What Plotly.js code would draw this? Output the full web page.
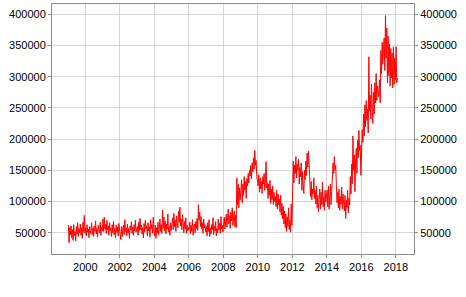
<!DOCTYPE html>
<html>
<head>
<meta charset="utf-8">
<script src="https://cdn.plot.ly/plotly-3.0.1.min.js"></script>
<style>html,body{margin:0;padding:0;background:#fff;}#chart{width:466px;height:297px;}</style>
</head>
<body>
<div id="chart"></div>
<script>
// Bi-weekly values, one array per year (first point near Jan 8, step 14 days)
const v1999 = [62000, 34000, 58000, 47000, 61000, 42000, 55000, 38000, 63000, 45000, 52000, 37000, 60000, 48000, 66000, 44000, 57000, 50000, 64000, 46000, 58000, 41000, 67000, 52000, 78000, 49000];
const v2000 = [58000, 45000, 63000, 51000, 56000, 42000, 60000, 49000, 54000, 66000, 47000, 58000, 44000, 61000, 52000, 69000, 48000, 57000, 43000, 62000, 55000, 50000, 67000, 46000, 59000, 53000];
const v2001 = [72000, 52000, 75000, 56000, 64000, 49000, 70000, 55000, 61000, 46000, 66000, 53000, 58000, 44000, 63000, 50000, 68000, 47000, 57000, 42000, 62000, 51000, 59000, 45000, 65000, 54000];
const v2002 = [48000, 39000, 60000, 44000, 56000, 62000, 47000, 71000, 52000, 58000, 45000, 64000, 50000, 57000, 41000, 61000, 55000, 68000, 49000, 59000, 46000, 63000, 53000, 70000, 51000, 57000];
const v2003 = [60000, 46000, 67000, 52000, 73000, 55000, 62000, 48000, 58000, 42000, 65000, 51000, 70000, 56000, 61000, 45000, 66000, 53000, 59000, 43000, 71000, 57000, 63000, 49000, 75000, 54000];
const v2004 = [45000, 62000, 41000, 58000, 50000, 67000, 47000, 55000, 72000, 52000, 63000, 49000, 86000, 58000, 75000, 53000, 69000, 48000, 64000, 56000, 80000, 51000, 60000, 46000, 66000, 54000];
const v2005 = [62000, 74000, 55000, 81000, 60000, 70000, 52000, 77000, 64000, 58000, 85000, 67000, 91000, 61000, 72000, 55000, 79000, 63000, 50000, 68000, 56000, 74000, 49000, 62000, 53000, 58000];
const v2006 = [55000, 67000, 48000, 62000, 52000, 71000, 46000, 59000, 64000, 50000, 68000, 57000, 73000, 54000, 95000, 70000, 83000, 60000, 76000, 56000, 66000, 49000, 72000, 58000, 63000, 51000];
const v2007 = [60000, 45000, 66000, 52000, 71000, 44000, 58000, 48000, 63000, 55000, 74000, 47000, 61000, 53000, 68000, 45000, 57000, 50000, 72000, 54000, 65000, 49000, 76000, 56000, 62000, 51000];
const v2008 = [62000, 75000, 56000, 68000, 80000, 59000, 72000, 88000, 64000, 77000, 57000, 83000, 69000, 90000, 62000, 74000, 85000, 60000, 78000, 58000, 138000, 95000, 128000, 90000, 122000, 102000];
const v2009 = [115000, 135000, 98000, 128000, 110000, 140000, 118000, 132000, 105000, 137000, 125000, 145000, 130000, 150000, 141000, 158000, 136000, 162000, 148000, 170000, 152000, 182000, 158000, 166000, 140000, 132000];
const v2010 = [125000, 143000, 115000, 138000, 120000, 132000, 113000, 140000, 128000, 145000, 118000, 135000, 164000, 122000, 130000, 105000, 128000, 110000, 134000, 97000, 120000, 103000, 125000, 95000, 115000, 100000];
const v2011 = [108000, 92000, 118000, 88000, 112000, 95000, 104000, 83000, 110000, 78000, 97000, 72000, 92000, 64000, 85000, 58000, 80000, 52000, 75000, 60000, 90000, 55000, 70000, 51000, 96000, 62000];
const v2012 = [142000, 165000, 130000, 158000, 145000, 172000, 138000, 160000, 150000, 168000, 128000, 155000, 140000, 162000, 118000, 148000, 125000, 113000, 150000, 135000, 165000, 142000, 178000, 155000, 181000, 148000];
const v2013 = [125000, 108000, 132000, 103000, 120000, 112000, 138000, 105000, 118000, 96000, 125000, 90000, 110000, 84000, 103000, 120000, 88000, 115000, 95000, 131000, 92000, 108000, 86000, 118000, 99000, 112000];
const v2014 = [118000, 92000, 125000, 88000, 110000, 128000, 95000, 122000, 140000, 162000, 145000, 172000, 150000, 158000, 125000, 98000, 115000, 90000, 120000, 86000, 108000, 96000, 123000, 88000, 112000, 92000];
const v2015 = [85000, 110000, 73000, 102000, 90000, 118000, 82000, 105000, 95000, 140000, 112000, 160000, 128000, 205000, 150000, 175000, 116000, 165000, 185000, 145000, 198000, 170000, 214000, 182000, 190000, 142000];
const v2016 = [178000, 215000, 195000, 240000, 205000, 255000, 220000, 262000, 230000, 248000, 210000, 332000, 245000, 270000, 232000, 288000, 250000, 225000, 275000, 240000, 290000, 258000, 305000, 262000, 285000, 272000];
const v2017 = [268000, 295000, 258000, 342000, 305000, 355000, 320000, 348000, 362000, 310000, 398000, 330000, 378000, 290000, 365000, 302000, 352000, 285000, 345000, 298000, 338000, 282000, 348000, 288000, 330000, 295000];
const v2018 = [348000, 290000, 298000];

const years = [1999,2000,2001,2002,2003,2004,2005,2006,2007,2008,2009,2010,2011,2012,2013,2014,2015,2016,2017,2018];
const seriesByYear = [v1999,v2000,v2001,v2002,v2003,v2004,v2005,v2006,v2007,v2008,v2009,v2010,v2011,v2012,v2013,v2014,v2015,v2016,v2017,v2018];

const xs = [], ys = [];
years.forEach((yr, k) => {
  seriesByYear[k].forEach((val, i) => {
    const d = new Date(Date.UTC(yr, 0, 8) + i * 14 * 86400000);
    xs.push(d.toISOString().slice(0, 10));
    ys.push(val);
  });
});

const tickFont = {family: 'Liberation Sans, Arial, sans-serif', size: 11, color: '#000'};
const yr = [16000, 416500];

const traces = [
  {x: xs, y: ys, type: 'scatter', mode: 'lines', line: {color: '#ff0000', width: 1}, hoverinfo: 'skip', showlegend: false},
  {x: xs, y: ys, yaxis: 'y2', type: 'scatter', mode: 'lines', line: {color: 'rgba(0,0,0,0)', width: 0}, hoverinfo: 'skip', showlegend: false}
];

const layout = {
  width: 466, height: 297,
  margin: {l: 52, r: 52, t: 4, b: 43, pad: 0},
  paper_bgcolor: '#fff', plot_bgcolor: '#fff',
  showlegend: false,
  xaxis: {
    type: 'date', range: ['1998-01-25', '2019-01-22'],
    tick0: '2000-01-01', dtick: 'M24', tickformat: '%Y',
    showgrid: true, gridcolor: '#d6d6d6', gridwidth: 1,
    showline: true, linecolor: '#8c8c8c', linewidth: 1, mirror: true,
    ticks: 'outside', ticklen: 3, tickcolor: '#8c8c8c',
    tickfont: tickFont, zeroline: false
  },
  yaxis: {
    range: yr, tick0: 0, dtick: 50000, tickformat: 'd',
    showgrid: true, gridcolor: '#d6d6d6', gridwidth: 1,
    showline: true, linecolor: '#8c8c8c', linewidth: 1, mirror: true,
    ticks: 'outside', ticklen: 3, tickcolor: '#8c8c8c',
    tickfont: tickFont, zeroline: false
  },
  yaxis2: {
    range: yr, tick0: 0, dtick: 50000, tickformat: 'd',
    overlaying: 'y', side: 'right', anchor: 'x',
    showgrid: false, showline: false,
    ticks: 'outside', ticklen: 3, tickcolor: '#8c8c8c',
    tickfont: tickFont, zeroline: false
  }
};

Plotly.newPlot('chart', traces, layout, {staticPlot: true, displayModeBar: false});
</script>
</body>
</html>
